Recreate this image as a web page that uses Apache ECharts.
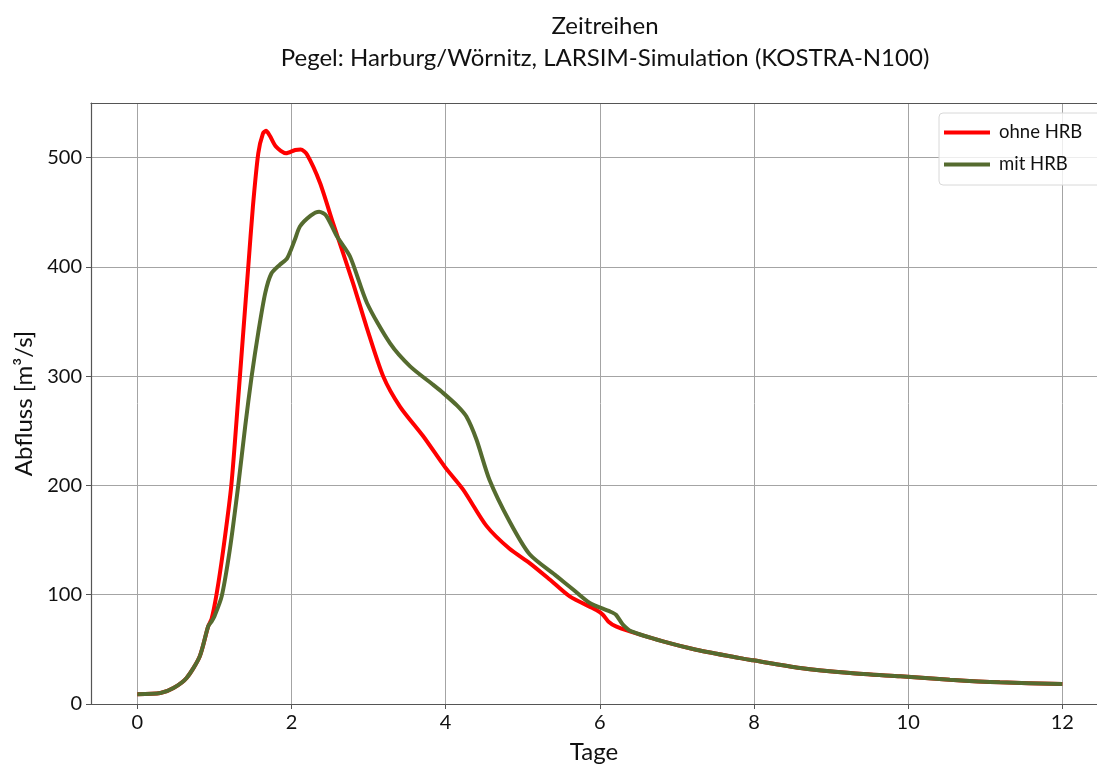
<!DOCTYPE html>
<html>
<head>
<meta charset="utf-8">
<script src="https://cdn.jsdelivr.net/npm/echarts@6/dist/echarts.min.js"></script>
<style>
  html, body { margin: 0; padding: 0; background: #fff; }
  #chart { width: 1097px; height: 765px; }
</style>
</head>
<body>
<div id="chart"></div>
<script>
// ohne HRB (Tage / Abfluss m3/s)
const tOhne = [0, 0.3, 0.47, 0.64, 0.81, 0.92, 0.965, 1.03, 1.115, 1.22, 1.31, 1.375, 1.44, 1.5, 1.57, 1.63, 1.67, 1.72, 1.8, 1.93, 2.05, 2.12, 2.2, 2.37, 2.54, 2.8, 2.975, 3.19, 3.41, 3.71, 3.99, 4.23, 4.53, 4.83, 5.09, 5.35, 5.61, 5.955, 6.04, 6.11, 6.21, 6.39, 6.82, 7.25, 7.82, 7.99, 8.6, 9.25, 9.9, 10.54, 11.19, 12];
const qOhne = [9, 10, 14.6, 23.8, 43.5, 71, 78, 101, 141, 200, 280, 340, 400, 455, 504, 522, 524.5, 520, 510, 504, 507, 507.5, 503, 477, 440, 385, 345, 300, 272, 245, 217, 196, 163, 142, 129, 114, 98.5, 86, 81.7, 75.6, 71, 66.4, 57.3, 49.7, 42, 40, 33, 28.4, 25.3, 22.2, 19.8, 18.3];

// mit HRB
const tMit = [0, 0.3, 0.47, 0.64, 0.81, 0.92, 0.965, 1.0, 1.095, 1.2, 1.31, 1.4, 1.484, 1.57, 1.66, 1.74, 1.85, 1.945, 2.045, 2.11, 2.25, 2.36, 2.45, 2.59, 2.76, 2.98, 3.28, 3.54, 3.84, 3.97, 4.15, 4.27, 4.4, 4.57, 4.83, 5.09, 5.44, 5.65, 5.87, 6.13, 6.21, 6.3, 6.41, 6.82, 7.25, 7.82, 7.99, 8.6, 9.25, 9.9, 10.54, 11.19, 12];
const qMit = [9, 10, 14.6, 23.8, 43.5, 71, 75.6, 80, 98.5, 141, 200, 254, 300, 340, 376, 394, 402, 408, 425, 437, 447, 450.5, 447, 428, 409.5, 367, 330, 309, 292, 284.5, 273, 263, 242, 205, 167, 137, 117, 105, 92.4, 84.7, 81.7, 72.6, 66.4, 57.3, 49.7, 42, 40, 33, 28.4, 25.3, 22.2, 19.8, 18.3];

const seriesNames = ['ohne HRB', 'mit HRB'];
const yTicks = [0, 100, 200, 300, 400, 500];

const font = 'Lato, "Noto Sans", sans-serif';
const zip = (t, q) => t.map((x, i) => [x, q[i]]);
const axisColor = '#555';
const gridColor = '#a4a4a4';

const chart = echarts.init(document.getElementById('chart'));
chart.setOption({
  animation: false,
  textStyle: { fontFamily: font, color: '#111' },
  title: {
    text: 'Zeitreihen',
    subtext: 'Pegel: Harburg/Wörnitz, LARSIM-Simulation (KOSTRA-N100)',
    left: 600,
    textAlign: 'center',
    top: 9,
    itemGap: 8,
    textStyle: { fontFamily: font, fontSize: 24, fontWeight: 'normal', color: '#111' },
    subtextStyle: { fontFamily: font, fontSize: 24, color: '#111' },
  },
  legend: {
    data: seriesNames,
    orient: 'vertical',
    left: 939,
    top: 113,
    padding: [10, 30, 11, 5],
    itemGap: 13,
    itemWidth: 46,
    itemHeight: 4,
    icon: 'rect',
    backgroundColor: 'rgba(255,255,255,0.8)',
    borderColor: '#d8d8d8',
    borderWidth: 1,
    borderRadius: 4,
    textStyle: { fontFamily: font, fontSize: 18.5, color: '#111', padding: [0, 0, 0, 4] },
  },
  grid: { left: 91, top: 103, bottom: 61, right: 0, outerBoundsMode: 'none', containLabel: false },
  xAxis: [
    {
      type: 'value',
      min: -0.6,
      max: 12.45,
      splitNumber: 6,
      name: 'Tage',
      nameLocation: 'middle',
      nameGap: 36,
      nameTextStyle: { fontSize: 24, color: '#111' },
      axisLine: { onZero: false, lineStyle: { color: axisColor, width: 1.2 } },
      axisTick: { length: 5, lineStyle: { color: axisColor } },
      axisLabel: { fontSize: 20, color: '#111', margin: 9, showMinLabel: false, showMaxLabel: false },
      splitLine: { show: true, lineStyle: { color: gridColor, width: 1 } },
    },
    {
      // top spine only
      type: 'value',
      position: 'top',
      min: -0.6,
      max: 12.45,
      axisLine: { show: true, onZero: false, lineStyle: { color: axisColor, width: 1.2 } },
      axisTick: { show: false },
      axisLabel: { show: false },
      splitLine: { show: false },
    },
  ],
  yAxis: {
    type: 'value',
    min: 0,
    max: 550,
    interval: 100,
    name: 'Abfluss [m³/s]',
    nameLocation: 'middle',
    nameGap: 54,
    nameTextStyle: { fontSize: 24, color: '#111' },
    axisLine: { show: true, onZero: false, lineStyle: { color: axisColor, width: 1.2 } },
    axisTick: { show: true, length: 5, lineStyle: { color: axisColor } },
    axisLabel: { fontSize: 20, color: '#111', margin: 9, showMaxLabel: false,
      formatter: (v) => (yTicks.includes(v) ? String(v) : '') },
    splitLine: { show: true, lineStyle: { color: gridColor, width: 1 } },
  },
  series: [
    {
      name: seriesNames[0],
      type: 'line',
      data: zip(tOhne, qOhne),
      smooth: 0.25,
      showSymbol: false,
      symbol: 'none',
      color: '#ff0000',
      lineStyle: { color: '#ff0000', width: 4 },
    },
    {
      name: seriesNames[1],
      type: 'line',
      data: zip(tMit, qMit),
      smooth: 0.25,
      showSymbol: false,
      symbol: 'none',
      color: '#556b2f',
      lineStyle: { color: '#556b2f', width: 4 },
    },
  ],
});
</script>
</body>
</html>
